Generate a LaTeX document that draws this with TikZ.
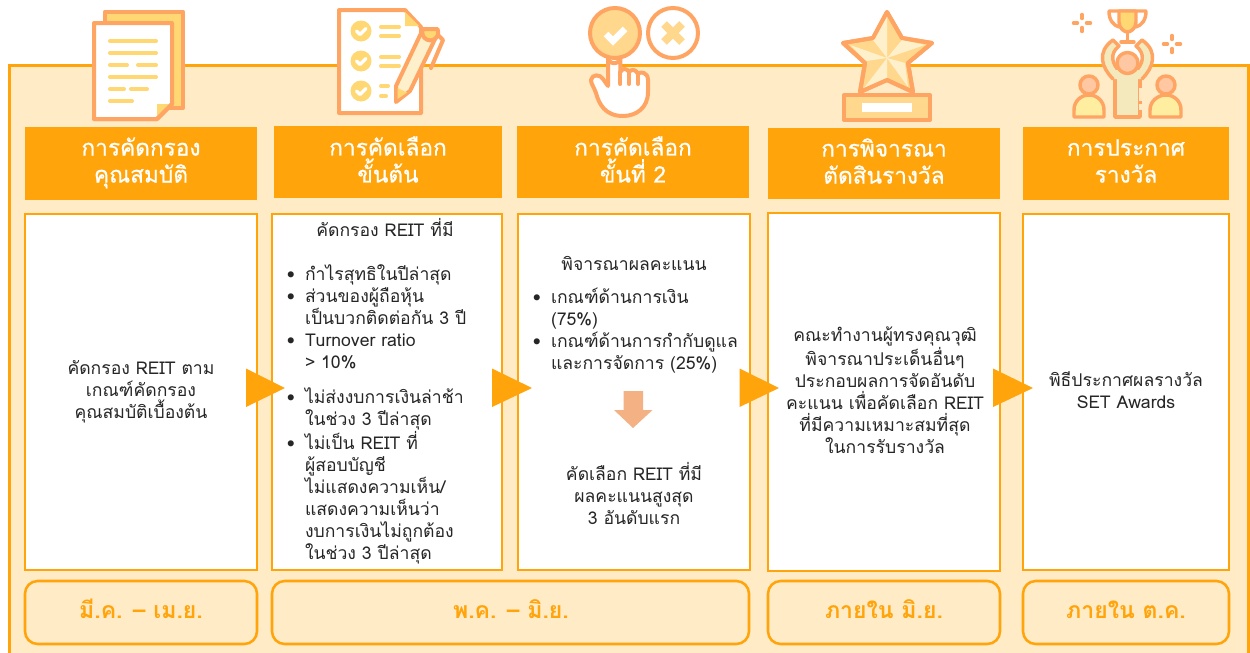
\documentclass[tikz,border=0pt]{standalone}
\usepackage{fontspec}
\usetikzlibrary{fit}
\setmainfont[Script=Thai]{Loma}
\newfontfamily\hdrfont[Script=Thai,FakeBold=0.7]{Loma}
\definecolor{org}{HTML}{FFA40B}
\definecolor{bgc}{HTML}{FFEBC6}
\definecolor{ico}{HTML}{FFA564}
\definecolor{yel}{HTML}{FFD873}
\definecolor{pale}{HTML}{FFF0CC}
\definecolor{sal}{HTML}{F4B183}
\definecolor{tan}{HTML}{FFD88E}
\definecolor{skin}{HTML}{FFC8A2}
\definecolor{grn}{HTML}{F3E9BC}
\definecolor{lem}{HTML}{FFEEA0}
\definecolor{ink}{HTML}{262626}
\newcommand\bul{\leavevmode\llap{\textbullet\hspace{7.5pt}}}
\tikzset{
 x=0.75pt,y=-0.75pt,
 every node/.style={inner sep=0pt,outer sep=0pt},
 hdr/.style={rectangle,fill=org},
 hdrtxt/.style={text=white,align=center,font=\hdrfont\fontsize{17pt}{20.25pt}\selectfont,execute at begin node=\strut,execute at end node=\strut},
 card/.style={rectangle,draw=org,line width=1.9pt,fill=white},
 body/.style={text=ink,align=center,font=\fontsize{13.2pt}{16.5pt}\selectfont,execute at begin node=\strut,execute at end node=\strut},
 lst/.style={body,align=left,anchor=north west},
 when/.style={rectangle,rounded corners=9.5pt,draw=org,line width=1.9pt},
 whentxt/.style={text=org,font=\fontsize{17.3pt}{20pt}\selectfont\bfseries,execute at begin node=\strut},
 tri/.style={fill=org},
 ic/.style={draw=ico,line width=3pt,line join=round,line cap=round},
 ln/.style={draw=yel,line width=3pt,line cap=round},
 thin/.style={draw=ico,line width=2.6pt,line join=round,line cap=round},
}
\begin{document}
\begin{tikzpicture}
\useasboundingbox (0,0) rectangle (1250,653);
\fill[white] (0,0) rectangle (1250,653);
% panel
\fill[bgc] (9,65) rectangle (1248.5,653);
\draw[org,line width=2.25pt] (9,653) -- (9,65) -- (1248.5,65) -- (1248.5,653);

% icon 1
\draw[ic,fill=yel] (105,11.5) rectangle (183,108);
\draw[ic,fill=white] (94,23) -- (172,23) -- (172,104) -- (157,119) -- (94,119) -- cycle;
\fill[yel] (157,119) -- (157,104) -- (172,104) -- cycle;
\draw[ic] (172,104) -- (157,119) -- (94,119);
\draw[ln] (110,41) -- (156,41);
\draw[ln] (110,53) -- (156,53);
\draw[ln] (110,65) -- (127,65) (138,65) -- (156,65);
\draw[ln] (110,77) -- (156,77);
\draw[ln] (110,89) -- (124,89) (131,89) -- (147,89);
\draw[ln] (110,101) -- (132,101);

% icon 2
\draw[ic,fill=white] (339,10) -- (405,10) -- (421,27) -- (421,113) -- (339,113) -- cycle;
\fill[yel] (405,12) -- (405,26) -- (419,26) -- cycle;
\foreach \yy in {31,61,91}{
 \fill[yel] (361,\yy) circle[radius=10.5];
 \draw[white,line width=2.4pt,line cap=round,line join=round] (356.5,\yy) ++(0,0) -- ++(3.5,3.5) -- ++(6,-6);
}
\draw[ln] (381,27) -- (399,27) (381,36) -- (399,36) (381,57) -- (399,57) (381,66) -- (399,66) (381,86) -- (388,86) (381,96) -- (386,96);
\draw[ic,fill=pale] (396,102) -- (396,86) -- (423,29) -- (437,35) -- (410,91) -- cycle;
\fill[yel] (397.5,99) -- (397.5,88) -- (407,92.5) -- cycle;
\draw[ic,fill=yel] (423,29) arc[start angle=205,end angle=-25,radius=8] -- cycle;
\draw[ic] (438,35) -- (443,40) -- (431,68);

% icon 3
\draw[ic,fill=tan] (615,33) circle[radius=25];
\draw[ic,fill=white] (673,33) circle[radius=25];
\draw[white,line width=5pt,line join=miter] (606,34) -- (613,41) -- (625,29);
\draw[tan,line width=6pt] (664,24) -- (682,42) (682,24) -- (664,42);
\draw[ic,fill=white] (608,57) arc[start angle=180,end angle=0,radius=6.2] -- (620.4,72)
 .. controls (622,68) and (627,68) .. (629,72) .. controls (631,69) and (636,69) .. (638,74)
 .. controls (640,71) and (648,72) .. (648,80) -- (648,92) .. controls (648,108) and (636,116) .. (623,116)
 .. controls (605,116) and (599,104) .. (596,93) .. controls (594,87) and (591,84) .. (591,80)
 .. controls (592,74) and (600,74) .. (603,79) -- (608,86) -- cycle;
\draw[ic] (620.4,72) -- (620.4,84) (629,73) -- (629,84) (638,75) -- (638,84);

% icon 4
\draw[ic,fill=tan] (887,12) -- (902,38) -- (932,43) -- (908,63) -- (913,92) -- (887,80) -- (860,92) -- (865,63) -- (843,43) -- (873,38) -- cycle;
\fill[pale] (887,58) -- (887,16) -- (873,40) -- cycle
 (887,58) -- (925,45) -- (902,40) -- cycle
 (887,58) -- (908,87) -- (905,63) -- cycle
 (887,58) -- (887,78) -- (864,88) -- cycle
 (887,58) -- (850,45) -- (866,61) -- cycle;
\draw[ic] (887,12) -- (902,38) -- (932,43) -- (908,63) -- (913,92) -- (887,80) -- (860,92) -- (865,63) -- (843,43) -- (873,38) -- cycle;
\draw[ic,fill=tan] (844,95) rectangle (930,120);
\fill[white] (862,103) rectangle (912,112);

% icon 5
\draw[thin] (1109,11) -- (1146,11) (1109,11) .. controls (1109,20) and (1113,25) .. (1119,27) (1146,11) .. controls (1146,20) and (1142,25) .. (1136,27);
\draw[thin,fill=yel] (1119,11) -- (1136,11) -- (1136,22) .. controls (1136,29) and (1130,32) .. (1127.5,32) .. controls (1125,32) and (1119,29) .. (1119,22) -- cycle;
\draw[thin] (1127.5,32) -- (1127.5,41) (1121,42) -- (1134,42);
\draw[thin,fill=grn] (1115,76) -- (1140,76) -- (1140,117) -- (1115,117) -- cycle;
\draw[thin,fill=grn] (1113,79) .. controls (1102,68) and (1096,52) .. (1113,40) -- (1119,46) .. controls (1109,54) and (1112,64) .. (1120,72) -- (1135,72) .. controls (1143,64) and (1146,54) .. (1136,46) -- (1142,40) .. controls (1159,52) and (1153,68) .. (1142,79);
\fill[grn] (1116,70) rectangle (1139,78);
\draw[thin,fill=skin] (1127.5,63) circle[radius=10.5];
\draw[bgc,line width=2.6pt] (1141,88) -- (1141,101) (1141,104) -- (1141,110);
\draw[thin,fill=skin] (1089,85) circle[radius=9];
\draw[thin,fill=lem] (1074,117) -- (1104,117) -- (1104,110) .. controls (1104,101) and (1097,95) .. (1089,95) .. controls (1081,95) and (1074,101) .. (1074,110) -- cycle;
\draw[thin,fill=skin] (1166,85) circle[radius=9];
\draw[thin,fill=lem] (1150,117) -- (1181,117) -- (1181,110) .. controls (1181,101) and (1174,95) .. (1166,95) .. controls (1158,95) and (1150,101) .. (1150,110) -- cycle;
\foreach \cx/\cy in {1082/23,1172/44}{
 \draw[thin] (\cx,\cy-8.5) -- (\cx,\cy-4.5) (\cx,\cy+4.5) -- (\cx,\cy+8.5) (\cx-8.5,\cy) -- (\cx-4.5,\cy) (\cx+4.5,\cy) -- (\cx+8.5,\cy);
}

% headers
\node[hdr,fit={(25,127) (257,200)}] (h1) {};
\node[hdr,fit={(274,126) (502,198)}] (h2) {};
\node[hdr,fit={(517,126) (749,198)}] (h3) {};
\node[hdr,fit={(768,128) (1000,199)}] (h4) {};
\node[hdr,fit={(1023,127) (1229,200)}] (h5) {};
\node[hdrtxt] (ht1) at (141,164) {การคัดกรอง\\คุณสมบัติ};
\node[hdrtxt] (ht2) at (388,163.5) {การคัดเลือก\\ขั้นต้น};
\node[hdrtxt] (ht3) at (633,163.5) {การคัดเลือก\\ขั้นที่ 2};
\node[hdrtxt] (ht4) at (884,165) {การพิจารณา\\ตัดสินรางวัล};
\node[hdrtxt] (ht5) at (1126,165) {การประกาศ\\รางวัล};

% cards
\node[card,fit={(25,214) (257,570)}] (c1) {};
\node[card,fit={(272,214) (502,570)}] (c2) {};
\node[card,fit={(518,214) (750,570)}] (c3) {};
\node[card,fit={(768,213) (1000,571)}] (c4) {};
\node[card,fit={(1023,214) (1229,570)}] (c5) {};

% card texts
\node[body] (t1) at (141,393) {คัดกรอง REIT ตาม\\เกณฑ์คัดกรอง\\คุณสมบัติเบื้องต้น};
\node[body] (t2a) at (385,230.5) {คัดกรอง REIT ที่มี};
\node[lst] (t2b) at (305,265) {\bul กำไรสุทธิในปีล่าสุด\\\bul ส่วนของผู้ถือหุ้น\\เป็นบวกติดต่อกัน 3 ปี\\\bul Turnover ratio\\> 10\%};
\node[lst] (t2c) at (305,388) {\bul ไม่ส่งงบการเงินล่าช้า\\ในช่วง 3 ปีล่าสุด\\\bul ไม่เป็น REIT ที่\\ผู้สอบบัญชี\\ไม่แสดงความเห็น/\\แสดงความเห็นว่า\\งบการเงินไม่ถูกต้อง\\ในช่วง 3 ปีล่าสุด};
\node[body] (t3a) at (634,266) {พิจารณาผลคะแนน};
\node[lst] (t3b) at (551,288) {\bul เกณฑ์ด้านการเงิน\\(75\%)\\\bul เกณฑ์ด้านการกำกับดูแล\\และการจัดการ (25\%)};
\node[body] (t3c) at (634,497) {คัดเลือก REIT ที่มี\\ผลคะแนนสูงสุด\\3 อันดับแรก};
\node[body] (t4) at (885,393) {คณะทำงานผู้ทรงคุณวุฒิ\\พิจารณาประเด็นอื่นๆ\\ประกอบผลการจัดอันดับ\\คะแนน เพื่อคัดเลือก REIT\\ที่มีความเหมาะสมที่สุด\\ในการรับรางวัล};
\node[body] (t5) at (1126,393) {พิธีประกาศผลรางวัล\\SET Awards};

% arrows between cards
\fill[tri] (246,368.5) -- (285,388) -- (246,407) -- cycle;
\fill[tri] (492,368.5) -- (532,388) -- (492,407) -- cycle;
\fill[tri] (739.5,368.5) -- (779,388) -- (739.5,407) -- cycle;
\fill[tri] (993,368.5) -- (1033,388) -- (993,407) -- cycle;
\fill[sal] (623.5,391) -- (643,391) -- (643,410) -- (652.5,410) -- (633,428) -- (614,410) -- (623.5,410) -- cycle;

% periods
\node[when,fit={(25,581) (257,644)}] (w1) {};
\node[when,fit={(272,581) (749,644)}] (w2) {};
\node[when,fit={(768,581) (1000,644)}] (w3) {};
\node[when,fit={(1023,581) (1229,644)}] (w4) {};
\node[whentxt] (wt1) at (141,613) {มี.ค. – เม.ย.};
\node[whentxt] (wt2) at (511,613) {พ.ค. – มิ.ย.};
\node[whentxt] (wt3) at (884,613) {ภายใน มิ.ย.};
\node[whentxt] (wt4) at (1126,613) {ภายใน ต.ค.};
\end{tikzpicture}
\end{document}
